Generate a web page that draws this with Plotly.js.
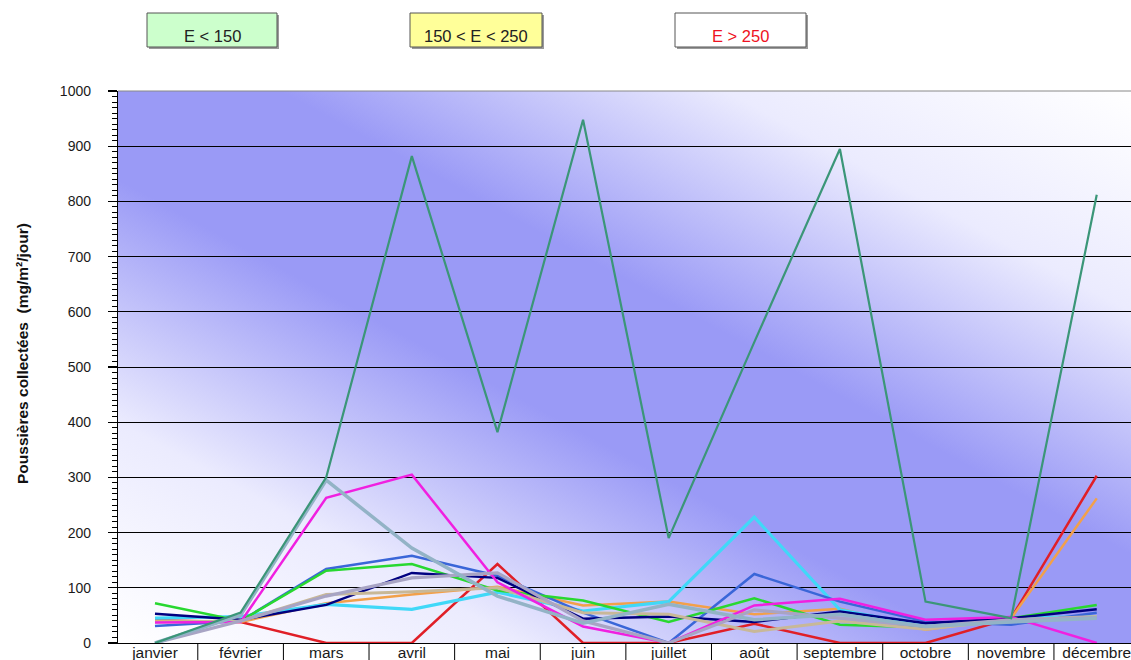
<!DOCTYPE html>
<html><head><meta charset="utf-8">
<script src="https://cdn.plot.ly/plotly-3.0.1.min.js"></script>
<style>body{margin:0;background:#fff}#chart{width:1131px;height:660px}</style>
</head><body><div id="chart"></div>
<script>
// ---- data ----
const months = ["janvier","février","mars","avril","mai","juin","juillet","août","septembre","octobre","novembre","décembre"];
const teal      = [0, 55, 300, 882, 382, 948, 190, 545, 895, 75, 45, 812];
const lightSteel= [0, 50, 295, 172, 85, 36, 70, 42, 52, 30, 38, 45];
const magenta   = [37, 38, 263, 305, 110, 30, 0, 68, 80, 42, 47, 0];
const red       = [41, 38, 0, 0, 143, 0, 0, 35, 0, 0, 45, 303];
const orange    = [40, 38, 72, 88, 102, 68, 75, 52, 62, 24, 45, 262];
const cyan      = [45, 48, 70, 61, 92, 58, 75, 228, 60, 30, 45, 48];
const royalBlue = [31, 40, 134, 158, 122, 55, 0, 125, 75, 39, 33, 55];
const green     = [72, 40, 131, 143, 95, 77, 38, 81, 33, 28, 45, 69];
const navy      = [53, 42, 69, 127, 118, 44, 48, 38, 57, 36, 45, 61];
const tan       = [38, 40, 88, 93, 100, 55, 52, 21, 40, 25, 42, 48];
const lavender  = [0, 40, 85, 118, 127, 40, 0, 60, 45, 30, 42, 46];
const yTickVals = [0,100,200,300,400,500,600,700,800,900,1000];
const legendLabels = ["E < 150", "150 < E < 250", "E > 250"];
const yTitle = "Poussières collectées\u00a0\u00a0(mg/m²/jour)";

// ---- styles ----
const series = [
  {y: red, color:'#e01f27', w:2.5},
  {y: orange, color:'#f2a04a', w:2.5},
  {y: cyan, color:'#40d8f8', w:3.2},
  {y: royalBlue, color:'#3a66d8', w:2.5},
  {y: green, color:'#28d830', w:2.5},
  {y: navy, color:'#000080', w:2.5},
  {y: tan, color:'#c8b898', w:3},
  {y: magenta, color:'#f020e0', w:2.5},
  {y: lavender, color:'#a8a4c4', w:3.2},
  {y: lightSteel, color:'#93b3c6', w:3.5},
  {y: teal, color:'#3b9678', w:2.2}
];
const traces = series.map(s => ({
  type:'scatter', mode:'lines', x: months, y: s.y,
  line:{color:s.color, width:s.w}, hoverinfo:'y', showlegend:false
}));

const L=118, T=91, W=1013, H=552;
const px = v => (v - L)/W;
const py = v => (T + H - v)/H;

function makeBg(w,h){
  const c=document.createElement('canvas'); c.width=w; c.height=h;
  const ctx=c.getContext('2d');
  const n=Math.sqrt(w*w+h*h);
  const nx=h/n, ny=-w/n, len=w*h/n, cx=w/2, cy=h/2;
  const g=ctx.createLinearGradient(cx-nx*len, cy-ny*len, cx+nx*len, cy+ny*len);
  g.addColorStop(0,'#ffffff');
  g.addColorStop(0.2,'#ebebfe');
  g.addColorStop(0.42,'#9a9af6');
  g.addColorStop(0.58,'#9a9af6');
  g.addColorStop(0.8,'#ebebfe');
  g.addColorStop(1,'#ffffff');
  ctx.fillStyle=g; ctx.fillRect(0,0,w,h);
  return c.toDataURL();
}

const shapes = [];
for (let i=0;i<months.length-1;i++){
  shapes.push({type:'line', xref:'x', yref:'paper', x0:i+0.5, x1:i+0.5, y0:0, y1:py(662), line:{color:'#000', width:1}});
}
shapes.push({type:'line', xref:'paper', yref:'paper', x0:0, x1:1, y0:1, y1:1, line:{color:'#888', width:1}});

const boxes = [
  {x0:147, x1:277, fill:'#ccffcc', text:legendLabels[0], tc:'#222222'},
  {x0:410, x1:542, fill:'#ffff99', text:legendLabels[1], tc:'#222222'},
  {x0:675, x1:806, fill:'#ffffff', text:legendLabels[2], tc:'#ee1122'}
];
const annotations = [];
boxes.forEach(b => {
  shapes.push({type:'rect', xref:'paper', yref:'paper', x0:px(b.x0+2), x1:px(b.x1+2), y0:py(49), y1:py(15), fillcolor:'#9a9a9a', line:{width:0}});
  shapes.push({type:'rect', xref:'paper', yref:'paper', x0:px(b.x0), x1:px(b.x1), y0:py(47), y1:py(13), fillcolor:b.fill, line:{color:'#555', width:1}});
  annotations.push({xref:'paper', yref:'paper', x:px((b.x0+b.x1)/2), y:py(36), text:b.text, showarrow:false,
    xanchor:'center', yanchor:'middle', font:{family:'Liberation Sans, Arial, sans-serif', size:16.5, color:b.tc}});
});
annotations.push({xref:'paper', yref:'paper', x:px(22), y:py(354), text:yTitle, textangle:-90, showarrow:false,
  xanchor:'center', yanchor:'middle', font:{family:'Liberation Sans, Arial, sans-serif', size:15.5, color:'#111', weight:'bold'}});

const layout = {
  width:1131, height:660,
  margin:{l:L, r:0, t:T, b:17, pad:0},
  paper_bgcolor:'#ffffff', plot_bgcolor:'rgba(0,0,0,0)',
  font:{family:'Liberation Sans, Arial, sans-serif', color:'#1a1a1a'},
  xaxis:{type:'category', range:[-0.432, 11.40], showgrid:false, zeroline:false,
    showline:true, linecolor:'#000', linewidth:1, ticks:'', tickfont:{size:15.5, color:'#1a1a1a'},
    ticklabelstandoff:-5, fixedrange:true},
  yaxis:{range:[0,1000], tickvals:yTickVals, showgrid:true, gridcolor:'#000', gridwidth:1,
    zeroline:false, showline:true, linecolor:'#000', linewidth:1.2,
    ticks:'outside', ticklen:9, tickcolor:'#000', tickwidth:1.2,
    minor:{dtick:10, ticks:'outside', ticklen:5, tickcolor:'#000', tickwidth:1, showgrid:false},
    tickfont:{size:14, color:'#1a1a1a'}, ticklabelstandoff:14,
    fixedrange:true},
  images:[{source:makeBg(W,H), xref:'paper', yref:'paper', x:0, y:1, sizex:1, sizey:1,
    xanchor:'left', yanchor:'top', sizing:'stretch', layer:'below'}],
  shapes:shapes, annotations:annotations, showlegend:false
};
Plotly.newPlot('chart', traces, layout, {displayModeBar:false, staticPlot:true});
</script></body></html>
